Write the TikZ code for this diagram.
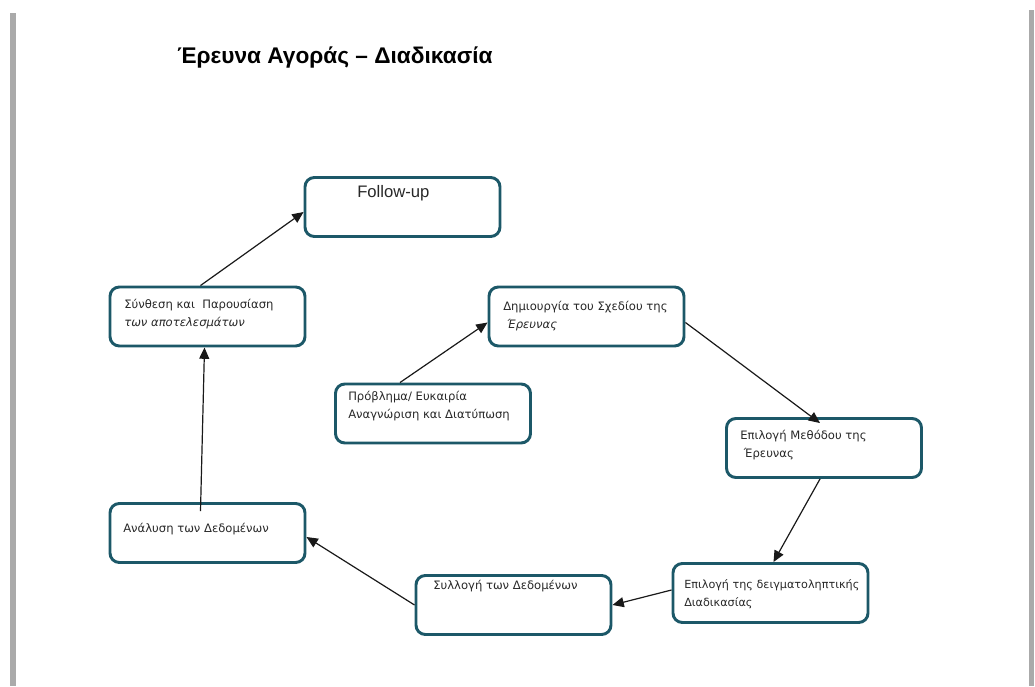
\documentclass[tikz,border=0pt]{standalone}
\usepackage{fontspec}
\setmainfont{DejaVu Sans}
\newfontfamily\titlefont{Liberation Sans}
\usetikzlibrary{arrows.meta,calc}
\definecolor{boxteal}{RGB}{28,88,104}
\definecolor{bargray}{RGB}{170,170,170}
\definecolor{txtgray}{RGB}{40,40,40}
\tikzset{
  stepbox/.style={draw=boxteal,line width=2.2pt,rounded corners=7pt,minimum width=195*0.75pt,minimum height=59*0.75pt,inner sep=0pt,fill=white},
  boxtext/.style={anchor=west,inner sep=0pt,align=left,font=\fontsize{8.7}{13.5}\selectfont,text=txtgray},
  conn/.style={draw=black!90,line width=0.9pt,-{Triangle[length=8.5pt,width=7.5pt]}}
}
\begin{document}
\begin{tikzpicture}[x=0.75pt,y=-0.75pt]
\useasboundingbox (0,0) rectangle (1035,686);
% side bars
\fill[bargray] (10,13) rectangle (16,686);
\fill[bargray] (1029,10) rectangle (1034,686);
% title
\node[anchor=west,inner sep=0pt,font=\titlefont\bfseries\fontsize{17}{20}\selectfont] (title) at (177,58) {Έρευνα Αγοράς – Διαδικασία};
% boxes
\node[stepbox] (fol) at (402.5,207) {};
\node[stepbox] (syn) at (207.5,316.5) {};
\node[stepbox] (dim) at (586.5,316.5) {};
\node[stepbox] (pro) at (433,413.5) {};
\node[stepbox] (met) at (824,448) {};
\node[stepbox] (ana) at (207.5,533) {};
\node[stepbox] (dei) at (770.5,593) {};
\node[stepbox] (syl) at (513.5,605) {};
% texts
\node[anchor=west,inner sep=0pt,font=\titlefont\fontsize{12.5}{14}\selectfont,text=txtgray] (tfol) at (357,193) {Follow-up};
\node[boxtext] (tsyn) at (124,314) {Σύνθεση και \ Παρουσίαση\\\textit{των αποτελεσμάτων}};
\node[boxtext] (tdim) at (503,316) {Δημιουργία του Σχεδίου της\\\ \textit{Έρευνας}};
\node[boxtext] (tpro) at (348,406) {Πρόβλημα/ Ευκαιρία\\Αναγνώριση και Διατύπωση};
\node[boxtext] (tmet) at (740,445) {Επιλογή Μεθόδου της\\\ Έρευνας};
\node[boxtext] (tana) at (123,529) {Ανάλυση των Δεδομένων};
\node[boxtext,font=\fontsize{8.4}{13.5}\selectfont] (tdei) at (684,594) {Επιλογή της δειγματοληπτικής\\Διαδικασίας};
\node[boxtext] (tsyl) at (433,586) {Συλλογή των Δεδομένων};
% connectors
\draw[conn] ($(syn.north)+(-7,0)$) -- ($(fol.west)+(0,5)$);
\draw[conn] ($(ana.north)+(-7,9)$) -- ($(syn.south)+(-3,0)$);
\draw[conn] ($(pro.north)+(-33,0)$) -- ($(dim.west)+(0,6)$);
\draw[conn] ($(dim.east)+(0,6)$) -- ($(met.north)+(-4,6)$);
\draw[conn] ($(met.south)+(-4,0)$) -- ($(dei.north)+(3,0)$);
\draw[conn] ($(dei.west)+(0,-3)$) -- (syl.east);
\draw[conn] (syl.west) -- ($(ana.east)+(0,4)$);
\end{tikzpicture}
\end{document}
